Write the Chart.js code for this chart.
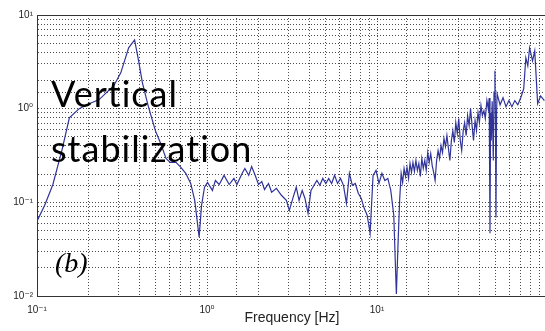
<!DOCTYPE html>
<html>
<head>
<meta charset="utf-8">
<script src="https://cdn.jsdelivr.net/npm/chart.js@4.4.1/dist/chart.umd.min.js"></script>
<style>
  html, body { margin: 0; padding: 0; overflow: hidden; background: #fff; }
  #wrap { width: 555px; height: 331px; }
</style>
</head>
<body>
<div id="wrap"><canvas id="chart"></canvas></div>
<script>
// Data (log-log), frequency in Hz
const freq = [
  0.1, 0.111, 0.124, 0.140, 0.155, 0.177, 0.203, 0.232, 0.283, 0.311,
  0.346, 0.375, 0.396, 0.417, 0.452, 0.497, 0.537, 0.574, 0.607, 0.657,
  0.702, 0.750, 0.802, 0.847, 0.899, 0.929, 0.967, 1.007, 1.076, 1.12,
  1.18, 1.26, 1.35, 1.44, 1.50, 1.61, 1.67, 1.76, 1.83, 1.91,
  2.01, 2.10, 2.18, 2.30, 2.40, 2.56, 2.74, 2.93, 3.05, 3.21,
  3.35, 3.48, 3.63, 3.77, 3.93, 4.09, 4.26, 4.43, 4.61, 4.80,
  5.00, 5.20, 5.41, 5.63, 5.86, 6.10, 6.35, 6.61, 6.88, 7.16,
  7.45, 7.76, 8.08, 8.41, 8.75, 9.11, 9.48, 9.87, 10.27, 10.69,
  11.12, 11.58, 12.05, 12.55, 13.0, 13.32, 13.59,
  13.87, 14.15, 14.43, 14.72, 15.02, 15.33, 15.64, 15.95, 16.27, 16.60,
  16.94, 17.28, 17.63, 17.99, 18.35, 18.72, 19.10, 19.48, 19.88, 20.28,
  20.70, 21.11, 21.54, 21.97, 22.42, 22.87, 23.34, 23.80, 24.29, 24.77,
  25.28, 25.78, 26.32, 26.83, 27.39, 27.93, 28.51, 29.07, 29.68, 30.25,
  30.89, 31.49, 32.15, 32.77, 33.46, 34.11, 34.83, 35.50, 36.25, 36.95,
  37.74, 38.46, 39.28, 40.02, 40.88, 41.66, 42.56, 43.36, 44.30, 45.13,
  45.7, 46.2, 46.6, 47.0, 47.6, 48.3, 48.8, 49.4, 49.8, 50.1,
  50.5, 50.88, 52.96, 55.12, 57.37, 59.71, 62.15, 64.69, 67.33, 70.08,
  72.94, 75.07, 77.1, 79.01, 82.24, 84.7, 86.3, 88.1, 91.7, 96.5
];
const amp = [
  0.063, 0.093, 0.155, 0.357, 0.80, 1.0, 1.13, 1.25, 1.76, 2.41,
  4.46, 5.42, 3.24, 1.89, 1.05, 0.583, 0.414, 0.294, 0.267, 0.267,
  0.236, 0.204, 0.159, 0.105, 0.0425, 0.093, 0.145, 0.163, 0.134, 0.171,
  0.155, 0.194, 0.155, 0.180, 0.155, 0.204, 0.230, 0.194, 0.241, 0.199,
  0.155, 0.167, 0.137, 0.159, 0.128, 0.141, 0.119, 0.105, 0.082, 0.113,
  0.145, 0.105, 0.134, 0.110, 0.0764, 0.134, 0.152, 0.171, 0.152, 0.180,
  0.159, 0.180, 0.159, 0.194, 0.159, 0.180, 0.152, 0.0976, 0.204, 0.152,
  0.159, 0.125, 0.110, 0.0863, 0.0728, 0.0468, 0.194, 0.219, 0.159, 0.204,
  0.171, 0.180, 0.134, 0.0728, 0.0105, 0.0394, 0.105,
  0.204, 0.163, 0.230, 0.189, 0.236, 0.180, 0.260, 0.209, 0.267, 0.214,
  0.280, 0.219, 0.260, 0.189, 0.294, 0.230, 0.280, 0.219, 0.340, 0.267,
  0.332, 0.248, 0.209, 0.171, 0.280, 0.357, 0.294, 0.404, 0.340, 0.480,
  0.394, 0.516, 0.375, 0.280, 0.457, 0.583, 0.435, 0.710, 0.542, 0.783,
  0.457, 0.357, 0.583, 0.710, 0.516, 0.843, 0.659, 1.0, 0.659, 0.457,
  0.745, 0.583, 0.906, 0.710, 1.08, 0.843, 0.952, 0.783, 1.22, 1.0,
  1.3, 0.0468, 0.9, 0.457, 1.2, 0.280, 1.5, 2.54, 0.6, 0.069,
  0.9, 1.44, 1.10, 1.31, 1.05, 1.22, 1.05, 1.22, 1.10, 1.31,
  1.63, 3.49, 2.87, 4.46, 3.24, 4.14, 2.24, 1.13, 1.37, 1.22
];
const xLabelled = [0.1, 1, 10];
const yLabelled = [0.01, 0.1, 1, 10];
const xTitle = 'Frequency [Hz]';
const noteLines = ['Vertical', 'stabilization'];
const panelTag = '(b)';

const sup = { '-': '\u207B', '0': '\u2070', '1': '\u00B9', '2': '\u00B2', '3': '\u00B3' };
function powLabel(v) {
  const e = Math.round(Math.log10(v));
  return '10' + String(e).split('').map(c => sup[c]).join('');
}
function tickCb(list) {
  return function (value) {
    return list.some(t => Math.abs(Math.log10(t) - Math.log10(value)) < 1e-6) ? powLabel(value) : '';
  };
}

const tickFont = { family: "'Liberation Sans', 'DejaVu Sans', Arial", size: 10 };
const gridStyle = { color: 'rgba(0,0,0,0.7)', lineWidth: 1, drawTicks: false };

// box top edge, like the matlab frame
const frameTop = {
  id: 'frameTop',
  beforeDatasetsDraw(chart) {
    const { ctx, chartArea } = chart;
    ctx.save();
    ctx.strokeStyle = '#333';
    ctx.lineWidth = 1;
    ctx.beginPath();
    ctx.moveTo(chartArea.left, chartArea.top + 0.5);
    ctx.lineTo(chartArea.right, chartArea.top + 0.5);
    ctx.stroke();
    ctx.restore();
  }
};

// overlay texts
const notes = {
  id: 'notes',
  afterDatasetsDraw(chart) {
    const ctx = chart.ctx;
    ctx.save();
    ctx.fillStyle = '#000';
    ctx.textAlign = 'left';
    ctx.textBaseline = 'alphabetic';
    ctx.font = "36px Lato, 'Open Sans', sans-serif";
    ctx.letterSpacing = '1px';
    ctx.fillText(noteLines[0], 51, 107);
    ctx.fillText(noteLines[1], 51, 162);
    ctx.letterSpacing = '0px';
    ctx.font = "italic 28px 'Liberation Serif', 'DejaVu Serif', serif";
    ctx.fillText(panelTag, 55, 272);
    ctx.restore();
  }
};

const ctx = document.getElementById('chart').getContext('2d');
new Chart(ctx, {
  type: 'line',
  data: {
    datasets: [{
      data: freq.map((f, i) => ({ x: f, y: amp[i] })),
      borderColor: '#30349a',
      borderWidth: 1.2,
      pointRadius: 0,
      tension: 0,
      fill: false
    }]
  },
  options: {
    responsive: true,
    maintainAspectRatio: false,
    animation: false,
    layout: { padding: { top: 15, left: 0, right: 0.5, bottom: 0 } },
    plugins: { legend: { display: false }, tooltip: { enabled: false } },
    scales: {
      x: {
        type: 'logarithmic',
        min: 0.1,
        max: 100,
        grid: gridStyle,
        border: { display: true, color: '#333', width: 1, dash: [1, 2] },
        ticks: { autoSkip: false, maxRotation: 0, padding: 8, color: '#222', font: tickFont, callback: tickCb(xLabelled) },
        title: { display: true, text: xTitle, color: '#222', font: { family: "'Liberation Sans', Arial", size: 14 }, padding: { top: 0, bottom: 4 } },
        afterFit: s => { s.height = 35; }
      },
      y: {
        type: 'logarithmic',
        min: 0.01,
        max: 10,
        grid: gridStyle,
        border: { display: true, color: '#333', width: 1, dash: [1, 2] },
        ticks: { autoSkip: false, padding: 4, color: '#222', font: tickFont, callback: tickCb(yLabelled) },
        afterFit: s => { s.width = 37; }
      }
    }
  },
  plugins: [frameTop, notes]
});
</script>
</body>
</html>
